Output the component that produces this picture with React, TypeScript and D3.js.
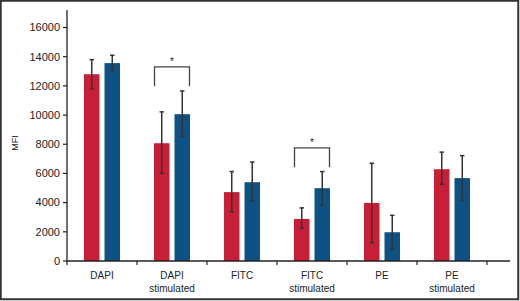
import React from "react";
import * as d3 from "d3";

const categories = ["DAPI", "DAPI\nstimulated", "FITC", "FITC\nstimulated", "PE", "PE\nstimulated"];
const groups = ["red", "blue"];
const redValues = [12800, 8070, 4720, 2880, 3980, 6290];
const redLow = [11800, 6000, 3380, 2240, 1260, 5260];
const redHigh = [13800, 10220, 6130, 3640, 6700, 7460];
const blueValues = [13560, 10060, 5400, 4990, 1970, 5680];
const blueLow = [13050, 8560, 4110, 3840, 820, 4180];
const blueHigh = [14100, 11650, 6780, 6130, 3130, 7220];
const yTicks = [0, 2000, 4000, 6000, 8000, 10000, 12000, 14000, 16000];
const sigCategories = ["DAPI\nstimulated", "FITC\nstimulated"];
const sigTop = [13300, 7750];
const sigBottom = [11980, 6430];
const sigLabels = ["*", "*"];
const yLabel = "MFI";

const colors: Record<string, string> = { red: "#C71F37", blue: "#0E5185" };
const FONT = "'Liberation Sans', Arial, Helvetica, sans-serif";

export default function App() {
  const W = 520, H = 301;
  const left = 67, base = 261, top = 10, axisEnd = 510;
  const y = d3.scaleLinear().domain([0, 17200]).range([base, top]);
  const x0 = d3.scaleBand<string>().domain(categories).range([left, 487]).padding(0);
  const x1 = d3.scaleBand<string>().domain(groups).range([17, 53]).paddingInner(0.244).paddingOuter(0);
  const bw = x1.bandwidth();
  const series: Record<string, { v: number[]; lo: number[]; hi: number[] }> = {
    red: { v: redValues, lo: redLow, hi: redHigh },
    blue: { v: blueValues, lo: blueLow, hi: blueHigh },
  };
  const boundaries = [...categories.map((c) => x0(c)!), x0(categories[categories.length - 1])! + x0.bandwidth()];
  const textColor = "#222";

  return (
    <svg width={W} height={H} style={{ position: "absolute", left: 0, top: 0, background: "#fff" }} fontFamily={FONT}>
      <rect x={0.75} y={0.75} width={W - 2.5} height={H - 2.5} fill="#fff" stroke="#333" strokeWidth={2} />
      {/* bars */}
      {categories.map((c, i) =>
        groups.map((g) => {
          const s = series[g];
          const bx = x0(c)! + x1(g)!;
          const cx = bx + bw / 2;
          return (
            <g key={c + g}>
              <rect x={bx} y={y(s.v[i])} width={bw} height={base - y(s.v[i])} fill={colors[g]} />
              <line x1={cx} x2={cx} y1={y(s.lo[i])} y2={y(s.hi[i])} stroke="#333" strokeWidth={1.5} />
              <line x1={cx - 2.2} x2={cx + 2.2} y1={y(s.lo[i])} y2={y(s.lo[i])} stroke="#333" strokeWidth={1.5} />
              <line x1={cx - 2.2} x2={cx + 2.2} y1={y(s.hi[i])} y2={y(s.hi[i])} stroke="#333" strokeWidth={1.5} />
            </g>
          );
        })
      )}
      {/* significance brackets */}
      {sigCategories.map((c, i) => {
        const xa = x0(c)! + x1("red")! + 0.5;
        const xb = x0(c)! + x1("blue")! + bw - 0.5;
        const yt = y(sigTop[i]);
        const yb = y(sigBottom[i]);
        return (
          <g key={"sig" + i}>
            <path d={`M${xa},${yb}V${yt}H${xb}V${yb}`} fill="none" stroke="#444" strokeWidth={1.3} />
            <text x={(xa + xb) / 2} y={yt - 2} textAnchor="middle" fontSize={10} fill={textColor}>
              {sigLabels[i]}
            </text>
          </g>
        );
      })}
      {/* y axis */}
      <line x1={left} x2={left} y1={top} y2={base} stroke="#222" strokeWidth={1.3} />
      {yTicks.map((t) => (
        <g key={t}>
          <line x1={left - 4} x2={left} y1={y(t)} y2={y(t)} stroke="#222" strokeWidth={1.2} />
          <text x={left - 7} y={y(t)} dy="0.35em" textAnchor="end" fontSize={11} fill={textColor}>
            {t}
          </text>
        </g>
      ))}
      <text transform={`translate(18,${143}) rotate(-90)`} textAnchor="middle" fontSize={9} fill={textColor}>
        {yLabel}
      </text>
      {/* x axis */}
      <line x1={left} x2={axisEnd} y1={base} y2={base} stroke="#222" strokeWidth={1.3} />
      {boundaries.map((b, i) => (
        <line key={i} x1={b} x2={b} y1={base} y2={base + 4} stroke="#222" strokeWidth={1.2} />
      ))}
      {categories.map((c) => {
        const lines = c.split("\n");
        const cx = x0(c)! + x0.bandwidth() / 2;
        return (
          <text key={c} x={cx} y={279} textAnchor="middle" fontSize={10} fill={textColor}>
            {lines.map((l, j) => (
              <tspan key={j} x={cx} dy={j === 0 ? 0 : 12.5}>
                {l}
              </tspan>
            ))}
          </text>
        );
      })}
    </svg>
  );
}
